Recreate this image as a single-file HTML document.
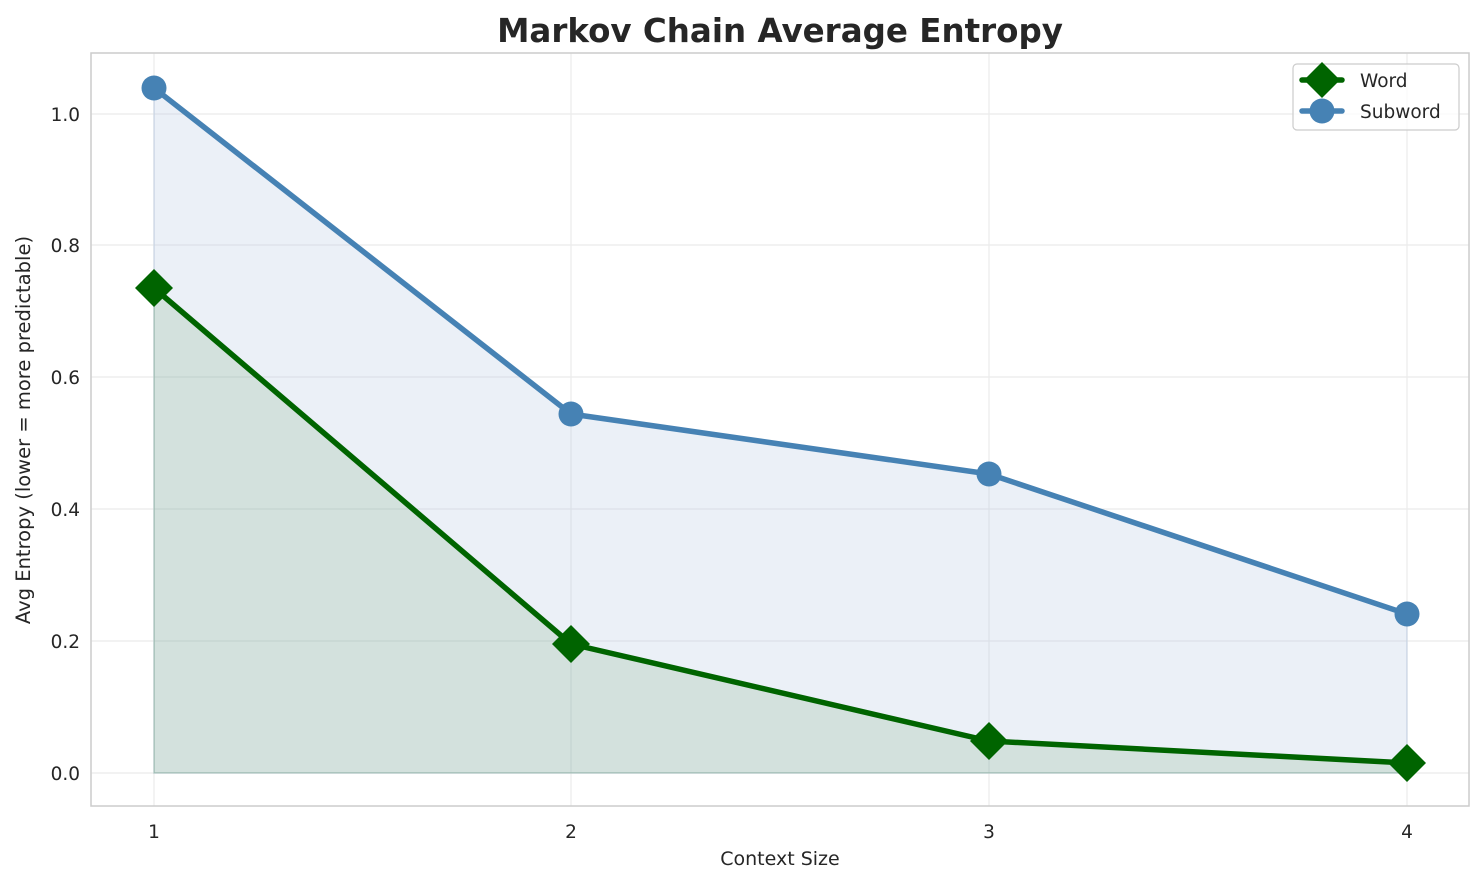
<!DOCTYPE html>
<html><head><meta charset="utf-8"><style>body{margin:0;background:#fff}svg{display:block}text{font-family:"DejaVu Sans","Liberation Sans",sans-serif;fill:#262626}</style></head><body>
<svg width="1484" height="885" viewBox="0 0 1484 885">
<rect x="0" y="0" width="1484" height="885" fill="#fff"/>
<g stroke="#ebebeb" stroke-width="1.2">
<line x1="154" y1="53" x2="154" y2="806"/><line x1="571" y1="53" x2="571" y2="806"/><line x1="989" y1="53" x2="989" y2="806"/><line x1="1407" y1="53" x2="1407" y2="806"/>
<line x1="91" y1="773" x2="1469" y2="773"/><line x1="91" y1="641" x2="1469" y2="641"/><line x1="91" y1="509" x2="1469" y2="509"/><line x1="91" y1="377" x2="1469" y2="377"/><line x1="91" y1="245" x2="1469" y2="245"/><line x1="91" y1="114" x2="1469" y2="114"/>
</g>
<polygon points="154,88 571,414 989,474 1407,614 1407,773 154,773" fill="#b0c4de" fill-opacity="0.25" stroke="#b0c4de" stroke-opacity="0.4" stroke-width="1.5"/>
<polygon points="154,288 571,644 989,741 1407,763 1407,773 154,773" fill="#006400" fill-opacity="0.1" stroke="#006400" stroke-opacity="0.12" stroke-width="1.5"/>
<polyline points="154,88 571,414 989,474 1407,614" fill="none" stroke="#4682b4" stroke-width="5.5" stroke-linejoin="round"/>
<g fill="#4682b4"><circle cx="154" cy="88" r="12.5"/><circle cx="571" cy="414" r="12.5"/><circle cx="989" cy="474" r="12.5"/><circle cx="1407" cy="614" r="12.5"/></g>
<polyline points="154,288 571,644 989,741 1407,763" fill="none" stroke="#006400" stroke-width="5.5" stroke-linejoin="round"/>
<g fill="#006400">
<polygon points="154,269 173,288 154,307 135,288"/><polygon points="571,625 590,644 571,663 552,644"/><polygon points="989,722 1008,741 989,760 970,741"/><polygon points="1407,744 1426,763 1407,782 1388,763"/></g>
<rect x="91" y="53" width="1378" height="753" fill="none" stroke="#cccccc" stroke-width="1.5"/>
<g font-size="18.5" text-anchor="middle">
<text x="154" y="838">1</text><text x="571" y="838">2</text><text x="989" y="838">3</text><text x="1407" y="838">4</text></g>
<g font-size="18.5" text-anchor="end">
<text x="80" y="780">0.0</text><text x="80" y="648">0.2</text><text x="80" y="516">0.4</text><text x="80" y="384">0.6</text><text x="80" y="252">0.8</text><text x="80" y="121">1.0</text></g>
<text x="780" y="865" font-size="19" text-anchor="middle">Context Size</text>
<text transform="translate(30,430) rotate(-90)" font-size="19.5" text-anchor="middle">Avg Entropy (lower = more predictable)</text>
<text x="780" y="42" font-size="32.5" font-weight="bold" text-anchor="middle">Markov Chain Average Entropy</text>
<rect x="1293" y="64" width="166" height="66" rx="4" fill="#fff" fill-opacity="0.8" stroke="#cccccc" stroke-width="1.2"/>
<line x1="1302" y1="80" x2="1342" y2="80" stroke="#006400" stroke-width="5.5" stroke-linecap="round"/>
<polygon points="1322,62 1340,80 1322,98 1304,80" fill="#006400"/>
<line x1="1302" y1="111" x2="1342" y2="111" stroke="#4682b4" stroke-width="5.5" stroke-linecap="round"/>
<circle cx="1322" cy="111" r="12.5" fill="#4682b4"/>
<text x="1360" y="87" font-size="18.5">Word</text>
<text x="1360" y="118" font-size="18.5">Subword</text>
</svg></body></html>
